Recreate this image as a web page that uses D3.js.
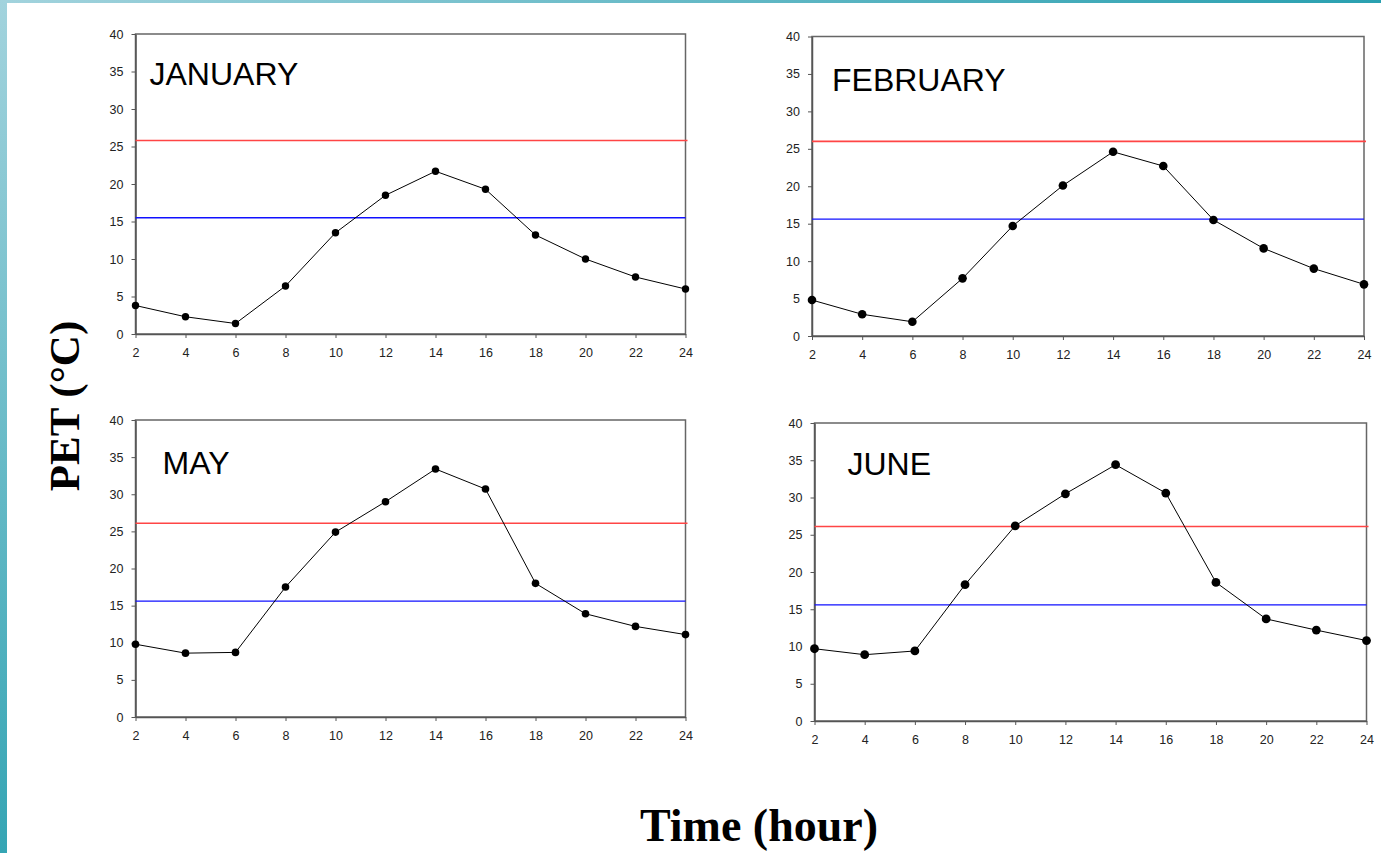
<!DOCTYPE html>
<html>
<head>
<meta charset="utf-8">
<style>
	body { margin: 0; background: #fff; }
	.tick text { font-family: "Liberation Sans", Arial, sans-serif; font-size: 12.5px; fill: #222; }
	.axis path, .axis line { stroke: #555; }
	.frame { fill: none; stroke: #666; stroke-width: 1.5; }
	.pet { fill: none; stroke: #000; stroke-width: 1; }
	.upper { stroke: #ff4545; stroke-width: 1.6; }
	.lower { stroke: #1010ff; stroke-width: 1.3; }
	.month { font-family: "Liberation Sans", Arial, sans-serif; font-size: 32px; fill: #000; }
	.label { font-family: "Liberation Serif", "Times New Roman", serif; font-weight: bold; fill: #000; }
</style>
<script src="https://cdn.jsdelivr.net/npm/d3@7"></script>
</head>
<body>
<script>
// hours of the day
var hours = [2, 4, 6, 8, 10, 12, 14, 16, 18, 20, 22, 24];
var months = ["JANUARY", "FEBRUARY", "MAY", "JUNE"];

// PET values
var janPET = [3.8, 2.3, 1.4, 6.4, 13.5, 18.5, 21.7, 19.3, 13.2, 10.0, 7.6, 6.0];
var febPET = [4.8, 2.9, 1.9, 7.7, 14.7, 20.1, 24.6, 22.7, 15.5, 11.7, 9.0, 6.9];
var mayPET = [9.8, 8.6, 8.7, 17.5, 24.9, 29.0, 33.4, 30.7, 18.0, 13.9, 12.2, 11.1];
var junPET = [9.7, 8.9, 9.4, 18.3, 26.2, 30.5, 34.4, 30.6, 18.6, 13.7, 12.2, 10.8];

// comfort limits (horizontal lines)
var upperLimit = [25.8, 26.0, 26.1, 26.1];
var lowerLimit = [15.5, 15.6, 15.6, 15.6];

var yTicks = [0, 5, 10, 15, 20, 25, 30, 35, 40];
var xTicks = [2, 4, 6, 8, 10, 12, 14, 16, 18, 20, 22, 24];

var series = [janPET, febPET, mayPET, junPET];

// layout of each panel
var panels = [
	{ left: 135.5, top: 34, w: 550, h: 300, tx: 14, ty: 51, r: 3.7 },
	{ left: 812, top: 36.5, w: 552, h: 299.5, tx: 20, ty: 54, r: 4.3 },
	{ left: 135.5, top: 420, w: 550, h: 297, tx: 27, ty: 54, r: 3.8 },
	{ left: 814.5, top: 423, w: 552, h: 298, tx: 33, ty: 52, r: 4.4 }
];

var W = 1381, H = 853;

var svg = d3.select("body").append("svg")
	.attr("width", W)
	.attr("height", H);

// teal border strips
var defs = svg.append("defs");
var gTop = defs.append("linearGradient").attr("id", "gTop")
	.attr("x1", "0").attr("y1", "0").attr("x2", "1").attr("y2", "0");
gTop.append("stop").attr("offset", "0").attr("stop-color", "#a2d3dd");
gTop.append("stop").attr("offset", "1").attr("stop-color", "#29a0b0");
var gLeft = defs.append("linearGradient").attr("id", "gLeft")
	.attr("x1", "0").attr("y1", "0").attr("x2", "0").attr("y2", "1");
gLeft.append("stop").attr("offset", "0").attr("stop-color", "#a2d3dd");
gLeft.append("stop").attr("offset", "1").attr("stop-color", "#35a5b4");

svg.append("rect").attr("x", 0).attr("y", 0).attr("width", W).attr("height", 3).attr("fill", "url(#gTop)");
svg.append("rect").attr("x", 0).attr("y", 0).attr("width", 7).attr("height", H).attr("fill", "url(#gLeft)");

panels.forEach(function(p, i) {
	var x = d3.scaleLinear().domain([2, 24]).range([0, p.w]);
	var y = d3.scaleLinear().domain([0, 40]).range([p.h, 0]);

	var g = svg.append("g").attr("transform", "translate(" + p.left + "," + p.top + ")");

	g.append("rect").attr("class", "frame")
		.attr("x", 0).attr("y", 0).attr("width", p.w).attr("height", p.h);

	g.append("g").attr("class", "axis")
		.call(d3.axisLeft(y).tickValues(yTicks).tickSize(4).tickPadding(8).tickSizeOuter(0))
		.call(function(a) { a.select(".domain").attr("stroke-width", 1.5); });

	g.append("g").attr("class", "axis")
		.attr("transform", "translate(0," + p.h + ")")
		.call(d3.axisBottom(x).tickValues(xTicks).tickSize(4).tickPadding(10).tickSizeOuter(0))
		.call(function(a) { a.select(".domain").attr("stroke-width", 1.5); });

	g.append("line").attr("class", "upper")
		.attr("x1", x(2)).attr("x2", x(24) + 2)
		.attr("y1", y(upperLimit[i])).attr("y2", y(upperLimit[i]));
	g.append("line").attr("class", "lower")
		.attr("x1", x(2)).attr("x2", x(24))
		.attr("y1", y(lowerLimit[i])).attr("y2", y(lowerLimit[i]));

	var line = d3.line()
		.x(function(d, j) { return x(hours[j]); })
		.y(function(d) { return y(d); });

	g.append("path").attr("class", "pet").attr("d", line(series[i]));

	g.selectAll("circle")
		.data(series[i])
		.enter()
		.append("circle")
			.attr("cx", function(d, j) { return x(hours[j]); })
			.attr("cy", function(d) { return y(d); })
			.attr("r", p.r)
			.attr("fill", "#000");

	g.append("text").attr("class", "month")
		.attr("x", p.tx).attr("y", p.ty)
		.text(months[i]);
});

svg.append("text").attr("class", "label")
	.attr("text-anchor", "middle")
	.attr("font-size", 43)
	.attr("transform", "translate(79,406) rotate(-90)")
	.text("PET (°C)");

svg.append("text").attr("class", "label")
	.attr("text-anchor", "middle")
	.attr("font-size", 46)
	.attr("x", 759).attr("y", 841)
	.text("Time (hour)");
</script>
</body>
</html>
